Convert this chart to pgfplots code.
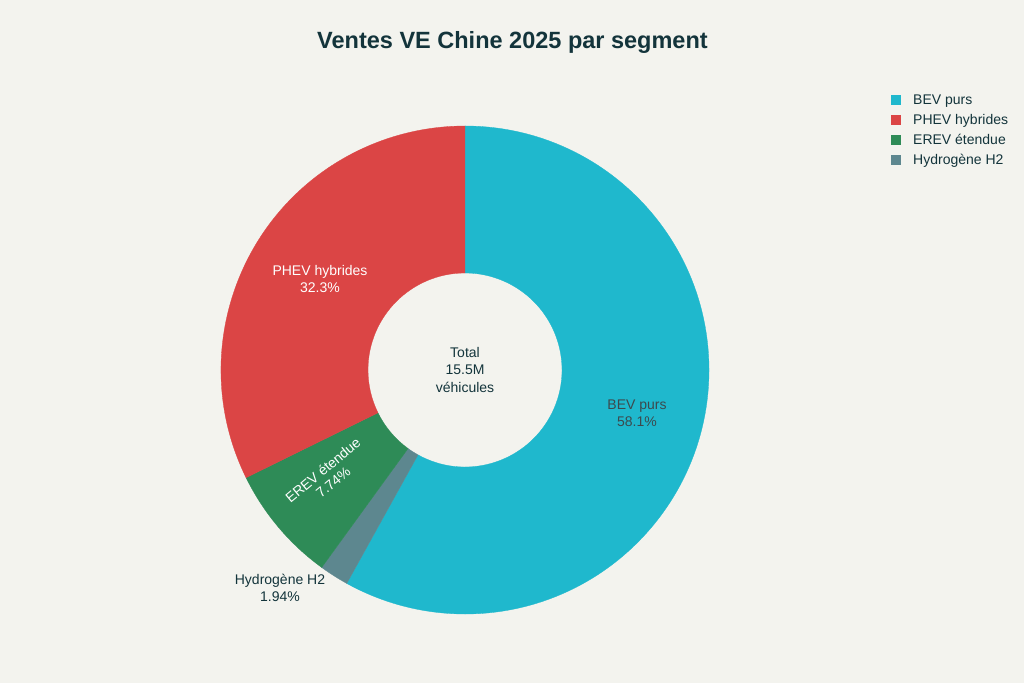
\documentclass[border=0pt]{standalone}
\usepackage{pgfplots}
\pgfplotsset{compat=1.18}
\usepackage{pgfplotstable}
\usepackage{fontspec}
\setmainfont{Liberation Sans}
\definecolor{bg}{HTML}{F3F3EE}
\definecolor{txt}{HTML}{13343B}
\definecolor{intxt}{HTML}{3C4A4E}
\definecolor{cBEV}{HTML}{1FB8CD}
\definecolor{cPHEV}{HTML}{DB4545}
\definecolor{cEREV}{HTML}{2E8B57}
\definecolor{cH}{HTML}{5D878F}
\pgfplotstableread{
seg value
BEV 58.1
H2 1.94
EREV 7.74
PHEV 32.3
}\segdata
\newcommand{\donutwedge}[3]{%
  \fill[#3, draw=#3, line width=0.3pt] (axis cs:465,313) ++(#1:244pt)
    arc[start angle=#1, end angle=#2, radius=244pt]
    -- ++({#2+180}:147pt)
    arc[start angle=#2, end angle=#1, radius=97pt] -- cycle;}
\newcommand{\legitem}[3]{%
  \fill[#1] (axis cs:891,{683-95-20*#3}) rectangle (axis cs:901,{683-105-20*#3});
  \node[anchor=base west, inner sep=0pt, text=txt, font=\fontsize{14}{16}\selectfont] at (axis cs:913,{683-105-20*#3}) {#2};}
\begin{document}
\begin{tikzpicture}
\pgfplotstablegetelem{0}{value}\of\segdata \let\vA\pgfplotsretval
\pgfplotstablegetelem{1}{value}\of\segdata \let\vB\pgfplotsretval
\pgfplotstablegetelem{2}{value}\of\segdata \let\vC\pgfplotsretval
\pgfplotstablegetelem{3}{value}\of\segdata \let\vD\pgfplotsretval
\pgfmathsetmacro{\tot}{\vA+\vB+\vC+\vD}
\pgfmathsetmacro{\aA}{90}
\pgfmathsetmacro{\aB}{\aA-360*(\vA/\tot)}
\pgfmathsetmacro{\aC}{\aB-360*(\vB/\tot)}
\pgfmathsetmacro{\aD}{\aC-360*(\vC/\tot)}
\pgfmathsetmacro{\aE}{\aD-360*(\vD/\tot)}
\begin{axis}[
  scale only axis, width=1024pt, height=683pt,
  xmin=0, xmax=1024, ymin=0, ymax=683,
  hide axis, clip=false,
]
\fill[bg] (axis cs:0,0) rectangle (axis cs:1024,683);
\donutwedge{\aA}{\aB}{cBEV}
\donutwedge{\aB}{\aC}{cH}
\donutwedge{\aC}{\aD}{cEREV}
\donutwedge{\aD}{\aE}{cPHEV}
% title
\node[text=txt, font=\fontsize{23.5}{27}\selectfont\bfseries] at (axis cs:512.5,641) {Ventes VE Chine 2025 par segment};
% slice labels
\node[align=center, font=\fontsize{14}{17}\selectfont, text=intxt] at (axis cs:637,270) {BEV purs\\58.1\%};
\node[align=center, font=\fontsize{14}{17.5}\selectfont, text=white] at (axis cs:320,404) {PHEV hybrides\\32.3\%};
\node[align=center, font=\fontsize{14}{16}\selectfont, text=white, rotate=40, inner sep=0pt] at (axis cs:328,207) {EREV étendue\\7.74\%};
\node[align=center, font=\fontsize{14}{17.5}\selectfont, text=txt] at (axis cs:280,95) {Hydrogène H2\\1.94\%};
\node[align=center, font=\fontsize{14}{17.5}\selectfont, text=txt] at (axis cs:465,313.5) {Total\\15.5M\\véhicules};
% legend
\legitem{cBEV}{BEV purs}{0}
\legitem{cPHEV}{PHEV hybrides}{1}
\legitem{cEREV}{EREV étendue}{2}
\legitem{cH}{Hydrogène H2}{3}
\end{axis}
\end{tikzpicture}
\end{document}
